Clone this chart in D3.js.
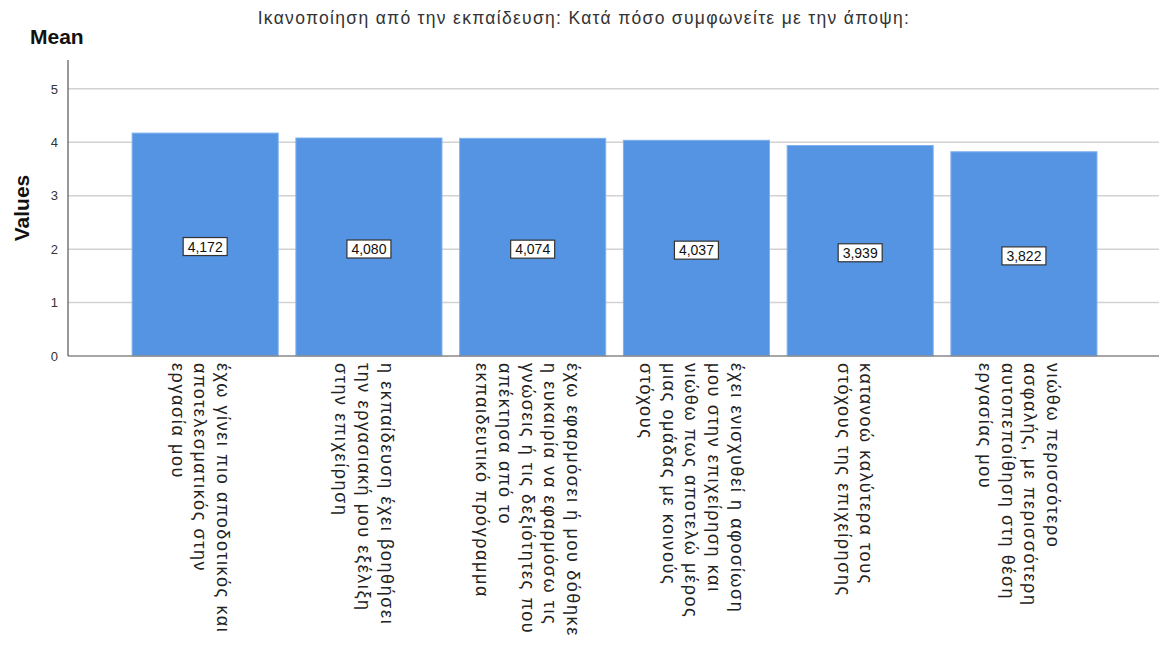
<!DOCTYPE html>
<html>
<head>
<meta charset="utf-8">
<script src="https://cdn.jsdelivr.net/npm/d3@7"></script>
<style>
  html, body { margin: 0; padding: 0; background: #fff; }
  svg { display: block; }
</style>
</head>
<body>
<svg id="chart" width="1163" height="647"></svg>
<script>
// Mean agreement per statement (1-5 scale)
const categoryLines = [
  ["έχω γίνει πιο αποδοτικός και", "αποτελεσματικός στην", "εργασία μου"],
  ["η εκπαίδευση έχει βοηθήσει", "την εργασιακή μου εξέλιξη", "στην επιχείρηση"],
  ["έχω εφαρμόσει ή μου δόθηκε", "η ευκαιρία να εφαρμόσω τις", "γνώσεις ή τις δεξιότητες που", "απέκτησα από το", "εκπαιδευτικό πρόγραμμα"],
  ["έχει ενισχυθεί η αφοσίωση", "μου στην επιχείρηση και", "νιώθω πως αποτελώ μέρος", "μιας ομάδας με κοινούς", "στόχους"],
  ["κατανοώ καλύτερα τους", "στόχους της επιχείρησης"],
  ["νιώθω περισσότερο", "ασφαλής, με περισσότερη", "αυτοπεποίθηση στη θέση", "εργασίας μου"]
];
const categories = categoryLines.map(l => l.join(" "));
const meanValues = [4.172, 4.080, 4.074, 4.037, 3.939, 3.822];
const yTicks = [0, 1, 2, 3, 4, 5];
const titleText = "Ικανοποίηση από την εκπαίδευση: Κατά πόσο συμφωνείτε με την άποψη:";
const statLabel = "Mean";
const yAxisLabel = "Values";

const svg = d3.select("#chart");
const FONT = "'Liberation Sans', Arial, sans-serif";

const plot = { left: 68, right: 1159, top: 60, bottom: 356 };

const x = d3.scaleBand()
  .domain(categories)
  .range([123.3, 1105.8])
  .paddingInner(0.108)
  .paddingOuter(0.054);

const y = d3.scaleLinear()
  .domain([0, 5.54])
  .range([plot.bottom, plot.top]);

// Gridlines
svg.append("g")
  .selectAll("line")
  .data(yTicks.filter(t => t > 0))
  .join("line")
  .attr("x1", plot.left)
  .attr("x2", plot.right)
  .attr("y1", d => y(d))
  .attr("y2", d => y(d))
  .attr("stroke", "#d2d2d2")
  .attr("stroke-width", 1.5);

// Bars
svg.append("g")
  .selectAll("rect")
  .data(meanValues)
  .join("rect")
  .attr("x", (d, i) => x(categories[i]))
  .attr("y", d => y(d))
  .attr("width", x.bandwidth())
  .attr("height", d => y(0) - y(d))
  .attr("fill", "#5594e3")
  .attr("stroke", "#7fb0ee")
  .attr("stroke-width", 1);

// Baseline
svg.append("line")
  .attr("x1", plot.left).attr("x2", plot.right)
  .attr("y1", y(0)).attr("y2", y(0))
  .attr("stroke", "#888").attr("stroke-width", 1.5);

// Y axis
const yAxis = d3.axisLeft(y)
  .tickValues(yTicks)
  .tickSize(0)
  .tickPadding(10)
  .tickFormat(d3.format("d"));
const yG = svg.append("g")
  .attr("transform", `translate(${plot.left},0)`)
  .call(yAxis);
yG.select(".domain")
  .attr("d", `M0,${plot.top}V${plot.bottom}`)
  .attr("stroke", "#555")
  .attr("stroke-width", 1.2);
yG.selectAll("text")
  .attr("font-family", FONT)
  .attr("font-size", 13)
  .attr("fill", "#333");

// Value labels in boxes at mid-bar
const fmt = v => d3.format(".3f")(v).replace(".", ",");
const vl = svg.append("g")
  .selectAll("g")
  .data(meanValues)
  .join("g")
  .attr("transform", (d, i) => `translate(${x(categories[i]) + x.bandwidth() / 2},${y(d / 2) + 2})`);
vl.append("rect")
  .attr("x", -22).attr("y", -9)
  .attr("width", 44).attr("height", 18)
  .attr("fill", "#fff")
  .attr("stroke", "#333")
  .attr("stroke-width", 1.2);
vl.append("text")
  .attr("text-anchor", "middle")
  .attr("dominant-baseline", "central")
  .attr("font-family", FONT)
  .attr("font-size", 14)
  .attr("fill", "#111")
  .text(d => fmt(d));

// Category labels, rotated to read downward
const lineH = 22.6;
const cat = svg.append("g")
  .selectAll("g")
  .data(categoryLines)
  .join("g")
  .attr("transform", (d, i) => `translate(${x(categories[i]) + x.bandwidth() / 2 - 5},363) rotate(90)`);
cat.selectAll("text")
  .data(d => d.map((t, j) => ({ t, j, n: d.length })))
  .join("text")
  .attr("x", 0)
  .attr("y", d => -((d.n - 1) / 2 - d.j) * lineH)
  .attr("dominant-baseline", "central")
  .attr("font-family", FONT)
  .attr("font-size", 18)
  .attr("letter-spacing", 1.6)
  .attr("fill", "#222")
  .text(d => d.t);

// Title
svg.append("text")
  .attr("x", 584).attr("y", 24)
  .attr("text-anchor", "middle")
  .attr("font-family", FONT)
  .attr("font-size", 17.5)
  .attr("letter-spacing", 1.3)
  .attr("fill", "#333")
  .text(titleText);

// Statistic label
svg.append("text")
  .attr("x", 30).attr("y", 44)
  .attr("font-family", FONT)
  .attr("font-weight", "bold")
  .attr("font-size", 21)
  .attr("fill", "#111")
  .text(statLabel);

// Y axis title
svg.append("text")
  .attr("transform", `translate(29,${(plot.top + plot.bottom) / 2}) rotate(-90)`)
  .attr("text-anchor", "middle")
  .attr("font-family", FONT)
  .attr("font-weight", "bold")
  .attr("font-size", 21)
  .attr("fill", "#111")
  .text(yAxisLabel);
</script>
</body>
</html>
